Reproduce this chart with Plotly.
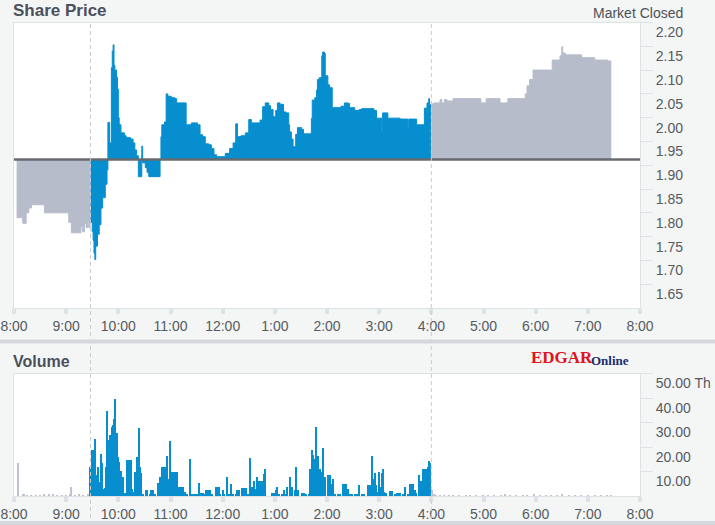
import plotly.graph_objects as go

DAY = "2024-01-05"
PREV_CLOSE = 1.912
OPEN_TIME = "9:28"
CLOSE_TIME = "16:00"

# ---- price data (time, price) ----
pre_times = ["8:03", "8:10", "8:14", "8:17", "8:20", "8:32", "8:35", "9:00", "9:03", "9:06",
             "9:15", "9:17", "9:19", "9:21", "9:23", "9:25", "9:26", "9:28"]
pre_prices = [1.790, 1.778, 1.800, 1.810, 1.817, 1.817, 1.800, 1.800, 1.780, 1.758,
              1.758, 1.772, 1.760, 1.778, 1.769, 1.782, 1.769, 1.769]

reg_times = ["9:28", "9:30", "9:31", "9:32", "9:33", "9:34", "9:36", "9:38", "9:40", "9:42",
             "9:45", "9:47", "9:48", "9:50", "9:52", "9:53", "9:54", "9:55", "9:56", "9:58",
             "9:59", "10:00", "10:01", "10:03", "10:07", "10:09", "10:14", "10:17", "10:19", "10:21",
             "10:23", "10:27", "10:28", "10:31", "10:33", "10:35", "10:48", "10:49", "10:50", "10:53",
             "10:55", "10:57", "11:01", "11:05", "11:07", "11:18", "11:24", "11:29", "11:31", "11:34",
             "11:37", "11:40", "11:44", "11:47", "11:50", "11:53", "12:00", "12:03", "12:08", "12:12",
             "12:15", "12:17", "12:21", "12:26", "12:30", "12:33", "12:43", "12:46", "12:49", "12:53",
             "12:55", "12:58", "13:01", "13:03", "13:06", "13:10", "13:13", "13:16", "13:17", "13:19",
             "13:21", "13:24", "13:26", "13:31", "13:33", "13:42", "13:43", "13:46", "13:48", "13:49",
             "13:51", "13:54", "13:55", "13:57", "13:58", "14:01", "14:03", "14:06", "14:16", "14:20",
             "14:24", "14:26", "14:32", "14:37", "14:40", "14:54", "14:57", "15:03", "15:04", "15:10",
             "15:24", "15:33", "15:34", "15:43", "15:52", "15:55", "15:57", "15:58", "16:00"]
reg_prices = [1.780, 1.760, 1.742, 1.715, 1.702, 1.730, 1.755, 1.775, 1.810, 1.832,
              1.860, 1.890, 1.990, 1.947, 2.105, 2.140, 2.153, 2.110, 2.100, 2.085,
              2.060, 2.000, 1.985, 1.968, 1.962, 1.958, 1.955, 1.947, 1.932, 1.920,
              1.876, 1.940, 1.905, 1.895, 1.885, 1.876, 1.912, 1.960, 1.985, 1.991,
              2.050, 2.045, 2.042, 2.040, 2.031, 1.985, 1.989, 1.989, 1.985, 1.964,
              1.960, 1.945, 1.943, 1.935, 1.922, 1.918, 1.918, 1.925, 1.935, 1.947,
              1.987, 1.960, 1.962, 1.968, 1.996, 1.989, 1.995, 2.023, 2.031, 2.025,
              2.017, 2.002, 2.015, 2.031, 2.028, 2.012, 2.010, 1.985, 1.970, 1.955,
              1.939, 1.965, 1.979, 1.975, 1.966, 1.998, 2.037, 2.042, 2.058, 2.080,
              2.084, 2.130, 2.138, 2.135, 2.088, 2.069, 2.063, 2.021, 2.024, 2.031,
              2.030, 2.021, 2.015, 2.017, 2.019, 2.015, 1.999, 1.970, 2.010, 1.999,
              1.997, 1.980, 1.997, 1.985, 2.020, 2.031, 2.040, 2.027, 2.027]

post_times = ["16:00", "16:03", "16:06", "16:10", "16:12", "16:15", "16:18", "16:25", "16:57", "17:03",
              "17:19", "17:28", "17:48", "17:50", "17:53", "17:57", "18:19", "18:28", "18:30", "18:31",
              "18:34", "18:53", "19:08", "19:23", "19:27"]
post_prices = [2.029, 2.031, 2.031, 2.038, 2.031, 2.038, 2.035, 2.040, 2.031, 2.040,
               2.031, 2.040, 2.050, 2.067, 2.080, 2.100, 2.121, 2.130, 2.149, 2.136,
               2.132, 2.126, 2.121, 2.119, 2.119]

# ---- volume data (thousands) ----
pre_vol_times = ["8:05", "8:10", "8:12", "8:15", "8:20", "8:25", "8:30", "8:35", "8:40", "8:45",
                 "8:50", "8:55", "9:00", "9:05", "9:06", "9:10", "9:15", "9:20", "9:25"]
pre_vol = [13.5, 1.2, 1.0, 0.6, 0.8, 0.5, 0.7, 0.9, 1.0, 1.2,
           0.8, 0.5, 0.6, 1.0, 3.7, 0.8, 1.0, 0.7, 0.9]

reg_vol_times = ["9:28", "9:30", "9:31", "9:33", "9:34", "9:37", "9:38", "9:40", "9:41", "9:44",
                 "9:45", "9:46", "9:47", "9:48", "9:49", "9:50", "9:52", "9:53", "9:54", "9:55",
                 "9:56", "9:58", "9:59", "10:00", "10:01", "10:02", "10:03", "10:04", "10:05", "10:08",
                 "10:10", "10:11", "10:12", "10:14", "10:15", "10:16", "10:17", "10:19", "10:20", "10:21",
                 "10:22", "10:24", "10:25", "10:26", "10:29", "10:32", "10:33", "10:36", "10:38", "10:39",
                 "10:40", "10:42", "10:46", "10:47", "10:48", "10:49", "10:50", "10:51", "10:53", "10:54",
                 "10:55", "10:56", "10:57", "10:58", "11:00", "11:01", "11:02", "11:03", "11:04", "11:05",
                 "11:07", "11:08", "11:09", "11:10", "11:12", "11:14", "11:15", "11:17", "11:19", "11:23",
                 "11:25", "11:27", "11:28", "11:31", "11:33", "11:35", "11:37", "11:38", "11:39", "11:41",
                 "11:42", "11:43", "11:45", "11:48", "11:52", "11:53", "11:54", "11:55", "11:56", "11:57",
                 "12:00", "12:02", "12:05", "12:07", "12:10", "12:12", "12:15", "12:17", "12:18", "12:19",
                 "12:22", "12:23", "12:24", "12:25", "12:26", "12:27", "12:29", "12:32", "12:34", "12:36",
                 "12:37", "12:39", "12:41", "12:42", "12:43", "12:45", "12:46", "12:48", "12:49", "12:57",
                 "12:58", "12:59", "13:01", "13:02", "13:03", "13:05", "13:08", "13:11", "13:12", "13:14",
                 "13:17", "13:18", "13:20", "13:23", "13:25", "13:27", "13:31", "13:32", "13:33", "13:34",
                 "13:36", "13:39", "13:40", "13:41", "13:42", "13:43", "13:44", "13:45", "13:46", "13:48",
                 "13:49", "13:50", "13:51", "13:52", "13:54", "13:55", "13:56", "13:57", "13:58", "14:01",
                 "14:02", "14:03", "14:04", "14:06", "14:07", "14:09", "14:13", "14:15", "14:18", "14:19",
                 "14:20", "14:21", "14:22", "14:24", "14:26", "14:29", "14:32", "14:34", "14:35", "14:37",
                 "14:40", "14:43", "14:47", "14:48", "14:49", "14:50", "14:52", "14:53", "14:55", "14:56",
                 "14:57", "14:58", "15:00", "15:02", "15:03", "15:04", "15:05", "15:06", "15:08", "15:12",
                 "15:13", "15:14", "15:15", "15:18", "15:21", "15:22", "15:24", "15:27", "15:30", "15:33",
                 "15:35", "15:36", "15:37", "15:39", "15:41", "15:43", "15:46", "15:48", "15:49", "15:50",
                 "15:51", "15:52", "15:53", "15:55", "15:56", "15:57", "15:58"]
reg_vol = [12.2, 18.8, 18.8, 23.6, 8.6, 12.0, 6.0, 17.4, 13.5, 3.2,
           3.5, 12.0, 35.0, 20.0, 22.9, 25.0, 22.9, 28.3, 29.0, 31.8,
           40.0, 26.0, 20.0, 16.0, 14.0, 10.6, 10.6, 5.0, 7.8, 1.5,
           14.7, 14.7, 14.7, 14.7, 14.7, 3.0, 2.0, 9.8, 5.0, 16.0,
           3.5, 28.0, 12.0, 9.4, 1.0, 2.8, 2.8, 1.0, 2.5, 2.5,
           2.5, 1.0, 5.7, 2.0, 7.8, 7.8, 11.9, 11.9, 11.9, 11.9,
           11.9, 16.7, 4.0, 7.0, 22.5, 6.5, 9.8, 9.8, 9.8, 9.8,
           9.8, 5.7, 3.7, 3.7, 3.7, 3.7, 3.7, 2.0, 1.0, 15.5,
           1.0, 1.2, 1.2, 1.2, 5.7, 1.6, 1.6, 1.6, 1.0, 2.8,
           2.8, 2.8, 2.8, 1.0, 3.7, 3.7, 3.7, 3.7, 3.7, 1.0,
           2.5, 1.0, 7.8, 1.2, 5.3, 1.0, 1.0, 2.5, 2.5, 2.5,
           3.3, 3.3, 3.3, 3.3, 3.3, 3.3, 1.0, 15.9, 4.0, 6.5,
           3.0, 7.8, 2.0, 6.5, 6.5, 6.5, 6.5, 9.0, 11.4, 1.6,
           1.6, 1.6, 2.5, 2.5, 3.7, 1.0, 1.0, 2.8, 1.0, 3.7,
           1.0, 7.8, 3.7, 2.8, 12.2, 2.8, 1.6, 1.6, 1.6, 1.6,
           1.0, 1.0, 11.4, 11.4, 11.4, 18.8, 17.0, 11.0, 15.5, 28.2,
           11.0, 16.7, 11.4, 11.4, 10.0, 19.6, 10.6, 6.0, 7.8, 8.6,
           8.6, 8.6, 3.0, 5.3, 7.3, 1.0, 1.0, 1.0, 5.3, 5.3,
           5.3, 5.3, 5.3, 3.0, 1.0, 1.2, 1.2, 1.2, 1.2, 4.9,
           1.0, 1.0, 4.5, 4.5, 4.5, 4.5, 16.7, 7.0, 9.4, 2.0,
           4.5, 2.0, 9.8, 4.0, 9.4, 3.0, 11.4, 2.0, 1.5, 2.4,
           2.4, 2.4, 2.4, 1.0, 1.5, 1.5, 1.5, 1.0, 3.7, 1.0,
           5.3, 5.3, 5.3, 5.3, 2.5, 1.5, 8.6, 6.5, 6.5, 6.5,
           11.4, 11.4, 11.4, 11.4, 12.0, 14.3, 13.5]

post_vol_times = ["16:01", "16:03", "16:06", "16:10", "16:15", "16:20", "16:25", "16:32", "16:40", "16:45",
                  "16:52", "17:00", "17:05", "17:12", "17:20", "17:25", "17:30", "17:38", "17:45", "17:50",
                  "17:58", "18:05", "18:12", "18:18", "18:25", "18:30", "18:38", "18:45", "18:52", "19:00",
                  "19:08", "19:15", "19:22", "19:27"]
post_vol = [2.5, 1.2, 0.6, 0.7, 0.5, 0.6, 0.8, 0.5, 0.6, 0.7,
            0.5, 0.8, 0.6, 0.5, 0.7, 1.0, 0.6, 0.5, 0.8, 0.6,
            1.0, 0.6, 0.7, 0.5, 0.8, 0.9, 0.6, 0.5, 0.7, 0.6,
            0.5, 0.8, 0.6, 0.5]

hour_ticks = [f"{h}:00" for h in range(8, 21)]
hour_labels = ["8:00", "9:00", "10:00", "11:00", "12:00", "1:00", "2:00", "3:00",
               "4:00", "5:00", "6:00", "7:00", "8:00"]
price_ticks = [1.65, 1.70, 1.75, 1.80, 1.85, 1.90, 1.95, 2.00, 2.05, 2.10, 2.15, 2.20]
vol_ticks = [10, 20, 30, 40, 50]
vol_labels = ["10.00", "20.00", "30.00", "40.00", "50.00 Th"]


def ts(hm):
    h, m = hm.split(":")
    return f"{DAY} {int(h):02d}:{m}"


BLUE = "#068ecf"
GRAY = "#b7bccb"
GRAY_VOL = "#bfc3cf"
TICKC = "#dde2e6"
TXT = "#565a60"

fig = go.Figure()


def add_area(times, prices, color):
    xs = [ts(t) for t in times]
    fig.add_trace(go.Scatter(x=[xs[0], xs[-1]], y=[PREV_CLOSE, PREV_CLOSE], mode="lines",
                             line=dict(width=0, color=color), hoverinfo="skip",
                             showlegend=False, xaxis="x", yaxis="y"))
    fig.add_trace(go.Scatter(x=xs, y=prices, mode="lines",
                             line=dict(width=1, color=color, shape="hv"),
                             fill="tonexty", fillcolor=color,
                             showlegend=False, xaxis="x", yaxis="y"))


add_area(pre_times, pre_prices, GRAY)
add_area(reg_times, reg_prices, BLUE)
add_area(post_times, post_prices, GRAY)

for times, vals, color in [(pre_vol_times, pre_vol, GRAY_VOL),
                           (reg_vol_times, reg_vol, BLUE),
                           (post_vol_times, post_vol, GRAY_VOL)]:
    fig.add_trace(go.Bar(x=[ts(t) for t in times], y=vals, width=80000,
                         marker=dict(color=color, line=dict(width=0)),
                         showlegend=False, xaxis="x2", yaxis="y2"))

XD = [14 / 715, 640 / 715]
axis_common = dict(showgrid=False, zeroline=False, showline=True, linecolor=TICKC,
                   linewidth=1, mirror=True, automargin=False)
xaxis_cfg = dict(domain=XD, type="date", range=[ts("8:00"), ts("20:00")],
                 tickvals=[ts(t) for t in hour_ticks], ticktext=hour_labels,
                 ticks="outside", ticklen=5, tickwidth=4, tickcolor=TICKC,
                 tickfont=dict(size=14, color=TXT), **axis_common)

fig.update_layout(
    width=715, height=525, margin=dict(l=0, r=0, t=0, b=0, autoexpand=False),
    paper_bgcolor="#f4f6f6", plot_bgcolor="#ffffff",
    showlegend=False, bargap=0,
    font=dict(family="Liberation Sans, Arial, sans-serif", size=14, color=TXT),
    xaxis=dict(anchor="y", **xaxis_cfg),
    yaxis=dict(domain=[1 - 308 / 525, 1 - 22.5 / 525], range=[1.60, 2.20], side="right",
               anchor="x", tickvals=price_ticks, ticktext=[f"{v:.2f}" for v in price_ticks],
               ticks="outside", ticklen=12, tickwidth=1, tickcolor=TICKC,
               ticklabelshift=10, tickfont=dict(size=14, color=TXT), **axis_common),
    xaxis2=dict(anchor="y2", **xaxis_cfg),
    yaxis2=dict(domain=[1 - 496 / 525, 1 - 373.5 / 525], range=[0, 50], side="right",
                anchor="x2", tickvals=vol_ticks, ticktext=vol_labels,
                ticks="outside", ticklen=12, tickwidth=1, tickcolor=TICKC,
                ticklabelshift=10, tickfont=dict(size=14, color=TXT), **axis_common),
)

# previous-close line
fig.add_shape(type="line", xref="paper", yref="y", x0=XD[0], x1=XD[1],
              y0=PREV_CLOSE, y1=PREV_CLOSE, line=dict(color="#676a6f", width=2.5))
# session boundaries
for t in [OPEN_TIME, CLOSE_TIME]:
    fig.add_shape(type="line", xref="x", yref="paper", x0=ts(t), x1=ts(t),
                  y0=0, y1=1 - 23 / 525, line=dict(color="#c9cbcd", width=1, dash="4px,3px"),
                  layer="above")
# separators
for py in [341.5, 523]:
    fig.add_shape(type="line", xref="paper", yref="paper", x0=0, x1=1,
                  y0=1 - py / 525, y1=1 - py / 525, line=dict(color="#d4d8dc", width=4))

fig.add_annotation(text="<b>Share Price</b>", xref="paper", yref="paper", x=11 / 715,
                   y=1 - 10.5 / 525, xanchor="left", yanchor="middle", showarrow=False,
                   font=dict(size=17, color="#4b505c", family="Liberation Sans, Arial"))
fig.add_annotation(text="Market Closed", xref="paper", yref="paper", x=685 / 715,
                   y=1 - 12.5 / 525, xanchor="right", yanchor="middle", showarrow=False,
                   font=dict(size=14, color="#4d5157"))
fig.add_annotation(text="<b>Volume</b>", xref="paper", yref="paper", x=11 / 715,
                   y=1 - 361.5 / 525, xanchor="left", yanchor="middle", showarrow=False,
                   font=dict(size=16, color="#4b505c", family="Liberation Sans, Arial"))
fig.add_annotation(text="<b>EDGAR</b>", xref="paper", yref="paper", x=529 / 715,
                   y=1 - 357.5 / 525, xanchor="left", yanchor="middle", showarrow=False,
                   font=dict(size=17, color="#e0141c", family="Liberation Serif, serif"))
fig.add_annotation(text="<b>Online</b>", xref="paper", yref="paper", x=589 / 715,
                   y=1 - 360 / 525, xanchor="left", yanchor="middle", showarrow=False,
                   font=dict(size=13, color="#1b2d6e", family="Liberation Serif, serif"))

fig.write_html("out.html", config={"displayModeBar": False},
               post_script="document.body.style.margin='0';"
                           "document.body.style.background='#f4f6f6';")
